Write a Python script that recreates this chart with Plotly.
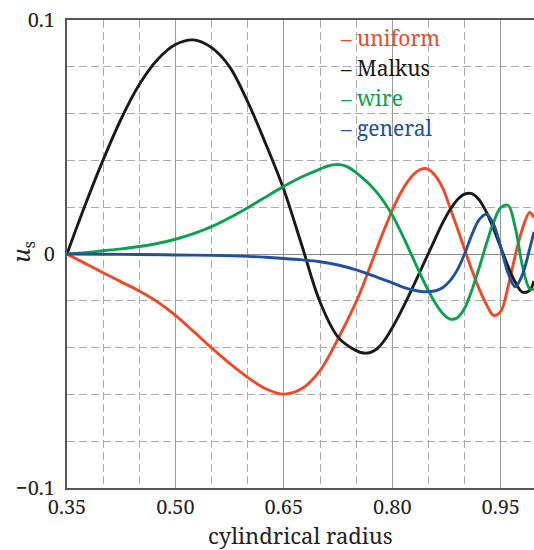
import plotly.graph_objects as go

# ---- data ----
x_malkus = [0.35, 0.375, 0.40, 0.425, 0.45, 0.475, 0.50, 0.525, 0.55, 0.575, 0.60, 0.625, 0.65, 0.675,
            0.70, 0.725, 0.75, 0.76, 0.77, 0.78, 0.79, 0.80, 0.81, 0.82, 0.83, 0.84, 0.85, 0.86, 0.87, 0.88, 0.89,
            0.90, 0.91, 0.92, 0.93, 0.94, 0.95, 0.96, 0.97, 0.98, 0.99, 0.996]
y_malkus = [0.0, 0.0208, 0.0402, 0.0578, 0.0724, 0.0830, 0.0895, 0.0915, 0.0882, 0.0800, 0.0650, 0.0470, 0.0275, 0.0035,
            -0.0205, -0.0355, -0.0413, -0.0423, -0.0420, -0.0402, -0.0365, -0.0315, -0.0258, -0.0196, -0.0131, -0.0064,
            0.0003, 0.0070, 0.0135, 0.0190, 0.0232,
            0.0256, 0.0258, 0.0232, 0.0180, 0.0108, 0.0028, -0.0052, -0.0120, -0.0163, -0.0155, -0.0115]

x_uniform = [0.35, 0.375, 0.40, 0.425, 0.45, 0.475, 0.50, 0.525, 0.55, 0.575, 0.60, 0.625, 0.65, 0.675,
             0.70, 0.725, 0.75, 0.76, 0.77, 0.78, 0.79, 0.80, 0.81, 0.82, 0.83, 0.84, 0.85, 0.86, 0.87,
             0.88, 0.89, 0.90, 0.91, 0.92, 0.93, 0.94, 0.95, 0.96, 0.97, 0.98, 0.99, 0.996]
y_uniform = [0.0, -0.0040, -0.0080, -0.0119, -0.0158, -0.0204, -0.0262, -0.0331, -0.0401, -0.0467, -0.0527, -0.0576, -0.0599, -0.0575,
             -0.0498, -0.0362, -0.0205, -0.0130, -0.0048, 0.0034, 0.0113, 0.0187, 0.0252, 0.0304, 0.0342, 0.0363, 0.0362, 0.0333, 0.0280,
             0.0197, 0.0110, 0.0020, -0.0068, -0.0148, -0.0214, -0.0262, -0.0245, -0.0140, -0.0008, 0.0108, 0.0178, 0.0155]

x_wire = [0.35, 0.375, 0.40, 0.425, 0.45, 0.475, 0.50, 0.525, 0.55, 0.575, 0.60, 0.625, 0.65, 0.675,
          0.70, 0.71, 0.72, 0.73, 0.74, 0.75, 0.76, 0.77, 0.78, 0.79, 0.80, 0.81, 0.82, 0.83, 0.84,
          0.85, 0.86, 0.87, 0.88, 0.89, 0.90, 0.91, 0.92, 0.93, 0.94, 0.95, 0.96, 0.97, 0.98, 0.99, 0.996]
y_wire = [0.0, 0.0006, 0.0014, 0.0022, 0.0032, 0.0045, 0.0063, 0.0087, 0.0117, 0.0155, 0.0198, 0.0244, 0.0289, 0.0330,
          0.0363, 0.0375, 0.0382, 0.0381, 0.0369, 0.0348, 0.0322, 0.0293, 0.0258, 0.0216, 0.0166, 0.0106, 0.0041, -0.0027, -0.0094,
          -0.0157, -0.0212, -0.0255, -0.0278, -0.0272, -0.0232, -0.0155, -0.0060, 0.0042, 0.0135, 0.0198, 0.0208, 0.0115, -0.0050,
          -0.0148, -0.0150]

x_general = [0.35, 0.40, 0.45, 0.50, 0.55, 0.60, 0.625, 0.65, 0.675, 0.70, 0.725, 0.75, 0.775, 0.80,
             0.81, 0.82, 0.83, 0.84, 0.85, 0.86, 0.87, 0.88, 0.89, 0.90, 0.91, 0.92, 0.93, 0.94,
             0.95, 0.96, 0.97, 0.98, 0.99, 0.996]
y_general = [0.0, -0.0001, -0.0002, -0.0004, -0.0006, -0.0010, -0.0014, -0.0019, -0.0025, -0.0033, -0.0047, -0.0068, -0.0095, -0.0123,
             -0.0136, -0.0147, -0.0155, -0.0160, -0.0161, -0.0157, -0.0143, -0.0114, -0.0068, 0.0000, 0.0082, 0.0146, 0.0170, 0.0128,
             0.0030, -0.0080, -0.0140, -0.0088, 0.0022, 0.0095]

series = [
    ("uniform", x_uniform, y_uniform, "#EE4A2A"),
    ("Malkus", x_malkus, y_malkus, "#1A1A1A"),
    ("wire", x_wire, y_wire, "#0AA24E"),
    ("general", x_general, y_general, "#22509F"),
]

FONT = "Noto Serif, Liberation Serif, DejaVu Serif, serif"

fig = go.Figure()
for name, xs, ys, col in series:
    fig.add_trace(go.Scatter(x=xs, y=ys, mode="lines", name=name,
                             line=dict(color=col, width=2.9, shape="spline", smoothing=1.0),
                             showlegend=False))

fig.update_layout(
    width=534, height=550,
    margin=dict(l=67, r=0, t=20, b=62),
    paper_bgcolor="white", plot_bgcolor="white",
    font=dict(family=FONT, size=21, color="#222"),
    xaxis=dict(range=[0.35, 0.996], tickmode="linear", tick0=0.35, dtick=0.15, tickformat=".2f",
               showgrid=True, gridcolor="#9a9a9a", gridwidth=1,
               minor=dict(tickmode="linear", tick0=0.35, dtick=0.05, showgrid=True,
                          gridcolor="#ababab", gridwidth=1, griddash="8px,4px"),
               showline=True, linecolor="#555", linewidth=2, mirror=True,
               ticks="", zeroline=False, ticklabelstandoff=0,
               tickfont=dict(family=FONT, size=20, color="#222")),
    yaxis=dict(range=[-0.1, 0.1], tickmode="linear", tick0=0, dtick=0.1,
               showgrid=True, gridcolor="#8a8a8a", gridwidth=1,
               minor=dict(tickmode="linear", tick0=0, dtick=0.02, showgrid=True,
                          gridcolor="#ababab", gridwidth=1, griddash="8px,4px"),
               showline=True, linecolor="#555", linewidth=2, mirror=False,
               ticks="", zeroline=False, ticklabelstandoff=6,
               tickfont=dict(family=FONT, size=20, color="#222")),
)

# white box behind the legend text
fig.add_shape(type="rect", xref="paper", yref="paper", x0=0.569, x1=0.938, y0=0.7265, y1=0.998,
              fillcolor="white", line=dict(width=0), layer="between")

leg_y = [0.9615, 0.897, 0.833, 0.769]
for (name, xs, ys, col), yy in zip(series, leg_y):
    fig.add_annotation(xref="paper", yref="paper", x=0.58, y=yy, xanchor="left", yanchor="middle",
                       text="– " + name, showarrow=False, font=dict(family=FONT, size=21, color=col))

fig.add_annotation(xref="paper", yref="paper", x=0.5, y=-0.1, xanchor="center", yanchor="middle",
                   text="cylindrical radius", showarrow=False, font=dict(family=FONT, size=22, color="#222"))
fig.add_annotation(xref="paper", yref="paper", x=-0.097, y=0.504, xanchor="center", yanchor="middle",
                   text="<i>u</i><sub>s</sub>", textangle=-90, showarrow=False,
                   font=dict(family=FONT, size=24, color="#222"))

fig.write_html("out.html")
